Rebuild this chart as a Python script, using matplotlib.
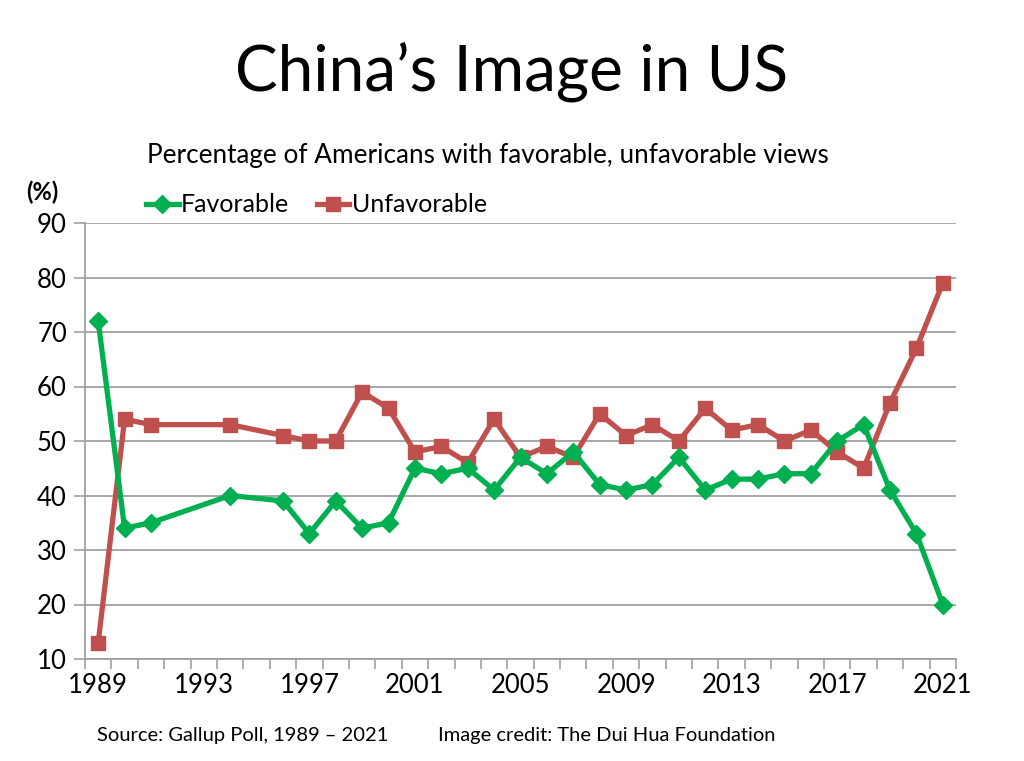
import matplotlib
matplotlib.use("Agg")
import matplotlib.pyplot as plt
import numpy as np

years = [1989, 1990, 1991, 1994, 1996, 1997, 1998, 1999, 2000, 2001, 2002, 2003,
         2004, 2005, 2006, 2007, 2008, 2009, 2010, 2011, 2012, 2013, 2014, 2015,
         2016, 2017, 2018, 2019, 2020, 2021]
favorable = [72, 34, 35, 40, 39, 33, 39, 34, 35, 45, 44, 45,
             41, 47, 44, 48, 42, 41, 42, 47, 41, 43, 43, 44,
             44, 50, 53, 41, 33, 20]
unfavorable = [13, 54, 53, 53, 51, 50, 50, 59, 56, 48, 49, 46,
               54, 47, 49, 47, 55, 51, 53, 50, 56, 52, 53, 50,
               52, 48, 45, 57, 67, 79]
tick_years = [1989, 1993, 1997, 2001, 2005, 2009, 2013, 2017, 2021]
y_ticks = [10, 20, 30, 40, 50, 60, 70, 80, 90]

plt.rcParams['font.family'] = ['Lato', 'DejaVu Sans']

fig = plt.figure(figsize=(10.24, 7.61), dpi=100)
ax = fig.add_axes([85/1024, 1-659/761, 871/1024, 436/761])

green = '#00B050'
red = '#C0504D'
grid_c = '#A0A0A0'

ax.plot(years, favorable, color=green, lw=3.8, marker='D', ms=9,
        label='Favorable', zorder=4, solid_joinstyle='miter')
ax.plot(years, unfavorable, color=red, lw=3.8, marker='s', ms=10,
        label='Unfavorable', zorder=3, solid_joinstyle='miter')

ax.set_xlim(1988.5, 2021.5)
ax.set_ylim(10, 90)
ax.set_yticks(y_ticks)
ax.set_xticks(tick_years)
ax.set_xticks(np.arange(1988.5, 2022, 1), minor=True)
ax.tick_params(axis='x', which='major', length=0, labelsize=18.5, pad=10)
ax.tick_params(axis='x', which='minor', length=7, width=1.2, color=grid_c, direction='out')
ax.tick_params(axis='y', length=8, width=1.2, color=grid_c, labelsize=18.5, pad=5)
ax.yaxis.grid(True, color=grid_c, lw=1.3)
ax.set_axisbelow(True)
for s in ['top', 'right']:
    ax.spines[s].set_visible(False)
for s in ['left', 'bottom']:
    ax.spines[s].set_color(grid_c)
    ax.spines[s].set_linewidth(1.3)

fig.text(512/1024, 1-72/761, 'China\u2019s Image in US', ha='center', va='center', fontsize=46)
fig.text(488/1024, 1-155/761, 'Percentage of Americans with favorable, unfavorable views',
         ha='center', va='center', fontsize=18.8)
fig.text(42/1024, 1-192/761, '(%)', ha='center', va='center', fontsize=17, fontweight='bold')
fig.text(97/1024, 1-735/761, 'Source: Gallup Poll, 1989 \u2013 2021', ha='left', va='center', fontsize=14.5)
fig.text(438/1024, 1-735/761, 'Image credit: The Dui Hua Foundation', ha='left', va='center', fontsize=14.5)

leg = fig.legend(loc='center left', bbox_to_anchor=(146/1024, 1-205/761), ncol=2,
                 frameon=False, fontsize=18, handlelength=1.3, handletextpad=0.1,
                 columnspacing=1.1, borderaxespad=0, borderpad=0)

fig.savefig('out.png', dpi=100)
